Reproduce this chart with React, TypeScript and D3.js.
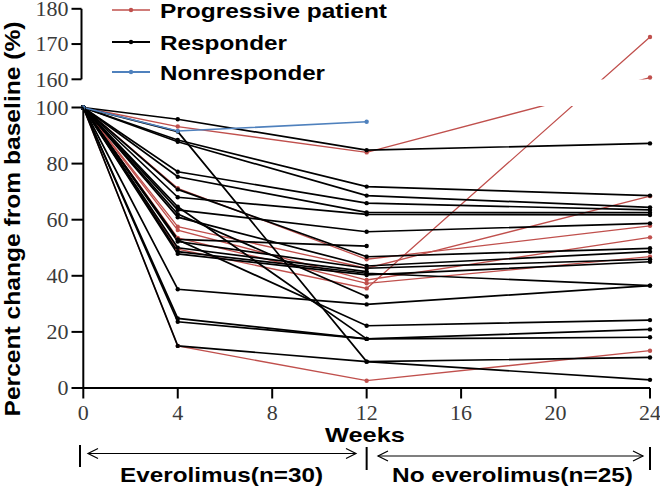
import React from "react";
import * as d3 from "d3";

const WEEKS = [0, 4, 12, 24];
const X_TICKS = [0, 4, 8, 12, 16, 20, 24];
const Y_TICKS_LOW = [0, 20, 40, 60, 80, 100];
const Y_TICKS_HIGH = [160, 170, 180];

// each row: % of baseline at weeks 0, 4, 12, 24 (null = no measurement)
const PROGRESSIVE: (number | null)[][] = [
  [100, 93.2, 84.0, 160.5],
  [100, 71.2, 45.9, 57.8],
  [100, 57.5, 42.7, 68.4],
  [100, 56.3, 38.5, 53.7],
  [100, 53.5, 37.3, 46.8],
  [100, 49.5, 35.5, 172],
  [100, 15.0, 2.6, 13.3],
];
const RESPONDER: (number | null)[][] = [
  [100, 95.8, 84.8, 87.2],
  [100, 88.4, 71.8, 68.6],
  [100, 87.8, 68.6, 64.4],
  [100, 77.1, 65.9, 63.5],
  [100, 75.3, 62.6, 62.5],
  [100, 68.0, 61.9, 61.7],
  [100, 63.5, 55.7, 58.7],
  [100, 70.8, 46.8, 49.8],
  [100, 60.9, 43.5, 48.6],
  [100, 52.2, 42.7, 45.9],
  [100, 47.8, 40.3, 45.0],
  [100, 48.6, 40.9, 36.5],
  [100, 35.2, 29.8, 36.5],
  [100, 52.8, 22.2, 24.2],
  [100, 24.8, 17.5, 20.9],
  [100, 23.6, 17.5, 18.1],
  [100, 91.4, 9.4, 10.9],
  [100, 15.0, 9.4, 2.9],
  [100, 53.0, 50.6, null],
  [100, 62.0, 32.6, null],
  [100, 64.6, 17.5, null],
  [100, 50.0, 41.5, null],
];
const NONRESPONDER: (number | null)[][] = [[100, 91.6, 94.9, null]];

const SERIES = [
  { name: "Progressive patient", color: "#c0504d", width: 1.3, rows: PROGRESSIVE },
  { name: "Responder", color: "#000000", width: 1.7, rows: RESPONDER },
  { name: "Nonresponder", color: "#4f81bd", width: 1.6, rows: NONRESPONDER },
];

const SANS = "'Liberation Sans', Arial, sans-serif";
const SERIF = "'Liberation Serif', 'Times New Roman', serif";

export default function App() {
  const x = d3.scaleLinear().domain([0, 24]).range([83.3, 650]);
  const y = d3
    .scaleLinear()
    .domain([0, 100, 160, 180])
    .range([388, 107.5, 79.3, 8.8]);

  const line = d3
    .line<[number, number | null]>()
    .defined((d) => d[1] !== null)
    .x((d) => x(d[0]))
    .y((d) => y(d[1] as number));

  const legendY = [10, 42, 72];

  return (
    <svg
      width={660}
      height={489}
      style={{ position: "absolute", left: 0, top: 0, background: "#fff" }}
    >
      <defs>
        <clipPath id="plotclip">
          <rect x={0} y={0} width={660} height={79.5} />
          <rect x={0} y={106} width={660} height={300} />
        </clipPath>
      </defs>

      {/* data lines */}
      <g clipPath="url(#plotclip)">
        {SERIES.map((s) =>
          s.rows.map((r, i) => (
            <path
              key={s.name + i}
              d={line(WEEKS.map((w, j) => [w, r[j]] as [number, number | null])) || ""}
              fill="none"
              stroke={s.color}
              strokeWidth={s.width}
            />
          ))
        )}
      </g>
      {SERIES.map((s) =>
        s.rows.map((r, i) =>
          WEEKS.map((w, j) =>
            r[j] === null ? null : (
              <circle
                key={s.name + i + "-" + j}
                cx={x(w)}
                cy={y(r[j] as number)}
                r={2.2}
                fill={s.color}
              />
            )
          )
        )
      )}

      {/* lower y axis */}
      <line x1={83.3} x2={83.3} y1={y(100)} y2={y(0)} stroke="#000" strokeWidth={2} />
      {Y_TICKS_LOW.map((t) => (
        <g key={"yl" + t}>
          <line x1={71.5} x2={83.3} y1={y(t)} y2={y(t)} stroke="#000" strokeWidth={2} />
          <text
            x={68.5}
            y={y(t)}
            dy="0.33em"
            textAnchor="end"
            fontFamily={SERIF}
            fontSize={22}
            fill="#3a3a3a"
          >
            {t}
          </text>
        </g>
      ))}

      {/* upper y axis */}
      <line x1={81.5} x2={81.5} y1={y(160)} y2={y(180)} stroke="#000" strokeWidth={2} />
      {Y_TICKS_HIGH.map((t) => (
        <g key={"yh" + t}>
          <line x1={71.5} x2={81.5} y1={y(t)} y2={y(t)} stroke="#000" strokeWidth={2} />
          <text
            x={68.5}
            y={y(t)}
            dy="0.33em"
            textAnchor="end"
            fontFamily={SERIF}
            fontSize={22}
            fill="#3a3a3a"
          >
            {t}
          </text>
        </g>
      ))}

      {/* x axis */}
      <line x1={x(0)} x2={x(24)} y1={388} y2={388} stroke="#000" strokeWidth={2} />
      {X_TICKS.map((t) => (
        <g key={"x" + t}>
          <line x1={x(t)} x2={x(t)} y1={388} y2={398.5} stroke="#000" strokeWidth={2} />
          <text
            x={x(t)}
            y={420}
            textAnchor="middle"
            fontFamily={SERIF}
            fontSize={22}
            fill="#3a3a3a"
          >
            {t}
          </text>
        </g>
      ))}

      {/* axis titles */}
      <text
        transform="translate(20,219) rotate(-90)"
        textAnchor="middle"
        fontFamily={SANS}
        fontWeight="bold"
        fontSize={21.5}
        textLength={395}
        lengthAdjust="spacingAndGlyphs"
      >
        Percent change from baseline (%)
      </text>
      <text
        x={365}
        y={442}
        textAnchor="middle"
        fontFamily={SANS}
        fontWeight="bold"
        fontSize={21}
        textLength={80}
        lengthAdjust="spacingAndGlyphs"
      >
        Weeks
      </text>

      {/* legend */}
      {SERIES.map((s, i) => (
        <g key={"leg" + s.name}>
          <line
            x1={112}
            x2={150}
            y1={legendY[i]}
            y2={legendY[i]}
            stroke={s.color}
            strokeWidth={s.width + 0.3}
          />
          <circle cx={131} cy={legendY[i]} r={2.2} fill={s.color} />
          <text
            x={160}
            y={legendY[i] + 8}
            fontFamily={SANS}
            fontWeight="bold"
            fontSize={21}
            textLength={[227, 127, 165][i]}
            lengthAdjust="spacingAndGlyphs"
          >
            {s.name}
          </text>
        </g>
      ))}

      {/* treatment periods */}
      <g stroke="#000" fill="none">
        <line x1={80} x2={80} y1={445} y2={467} strokeWidth={2} />
        <line x1={x(12)} x2={x(12)} y1={447} y2={470} strokeWidth={2} />
        <line x1={x(24)} x2={x(24)} y1={447} y2={470} strokeWidth={2} />
        <line x1={88} x2={356} y1={453.5} y2={453.5} strokeWidth={1.2} />
        <path d="M98,448.5 L88,453.5 L98,458.5" strokeWidth={1.2} />
        <path d="M346,448.5 L356,453.5 L346,458.5" strokeWidth={1.2} />
        <line x1={378} x2={643} y1={456} y2={456} strokeWidth={1.2} />
        <path d="M388,451 L378,456 L388,461" strokeWidth={1.2} />
        <path d="M633,451 L643,456 L633,461" strokeWidth={1.2} />
      </g>
      <text
        x={221.5}
        y={482}
        textAnchor="middle"
        fontFamily={SANS}
        fontWeight="bold"
        fontSize={21}
        textLength={203}
        lengthAdjust="spacingAndGlyphs"
      >
        Everolimus(n=30)
      </text>
      <text
        x={512.5}
        y={482}
        textAnchor="middle"
        fontFamily={SANS}
        fontWeight="bold"
        fontSize={21}
        textLength={241}
        lengthAdjust="spacingAndGlyphs"
      >
        No everolimus(n=25)
      </text>
    </svg>
  );
}
